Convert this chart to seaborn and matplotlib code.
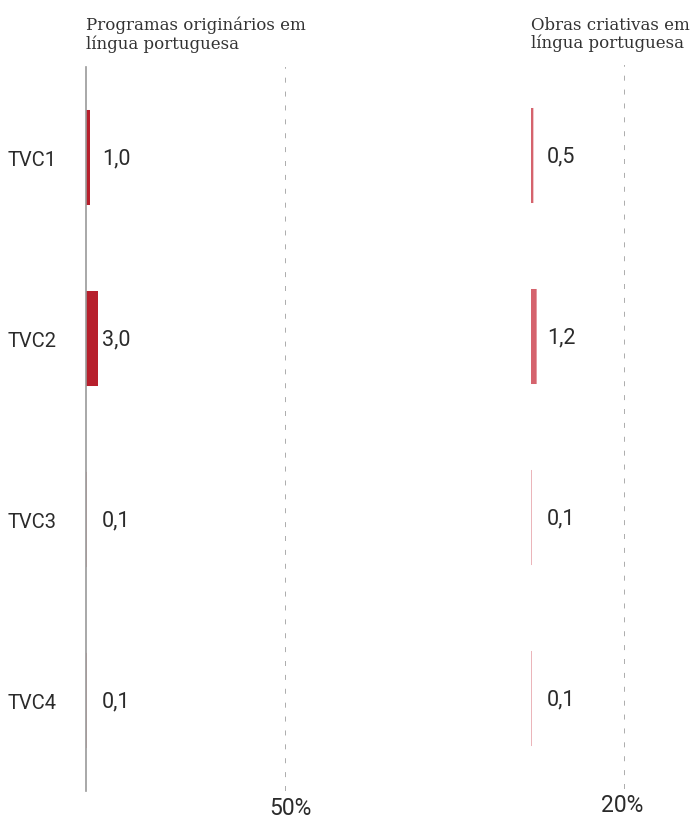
import matplotlib
matplotlib.use("Agg")
import matplotlib.pyplot as plt
from matplotlib.transforms import ScaledTranslation
import seaborn as sns
import pandas as pd

# Data
channels = ["TVC1", "TVC2", "TVC3", "TVC4"]
programas_pt = [1.0, 3.0, 0.1, 0.1]   # % programas originários em língua portuguesa
obras_pt = [0.5, 1.2, 0.1, 0.1]       # % obras criativas em língua portuguesa
panel_titles = ["Programas originários em\nlíngua portuguesa",
                "Obras criativas em\nlíngua portuguesa"]
ref_values = [50, 20]
ref_labels = ["50%", "20%"]


def fmt(v):
    return f"{v:.1f}".replace(".", ",")


sns.set_theme(style="white")
plt.rcParams["font.family"] = ["Roboto", "DejaVu Sans"]
plt.rcParams["lines.scale_dashes"] = False

W, H = 695, 820
fig = plt.figure(figsize=(W / 100, H / 100), dpi=100)


def px_axes(x0, x1, ytop, ybot):
    return fig.add_axes([x0 / W, 1 - ybot / H, (x1 - x0) / W, (ybot - ytop) / H])


ax_l = px_axes(86, 286, 68, 792)
ax_r = px_axes(531, 625, 66, 790)

df = pd.DataFrame({"canal": channels, "programas": programas_pt, "obras": obras_pt})

panels = [
    (ax_l, "programas", "#b71f2c", panel_titles[0], ref_values[0], ref_labels[0], 5, 4),
    (ax_r, "obras", "#d5636d", panel_titles[1], ref_values[1], ref_labels[1], 4, -3),
]

text_color = "#2b2b2b"

for ax, col, color, title, ref, ref_lab, pad_px, dx_px in panels:
    sns.barplot(data=df, x=col, y="canal", orient="h", color=color,
                saturation=1, width=0.525, linewidth=0, ax=ax)
    # keep hairline bars (0,1 %) visible instead of snapping them away
    for p in ax.patches:
        p.set_snap(False)
    ax.set_xlim(0, ref)
    ax.set_ylim(3.5, -0.5)
    ax.axvline(ref, color="#9e9e9e", lw=1.2, ls=(0, (3.6, 6.4)), zorder=0)
    ax.set_xticks([ref])
    ax.set_xticklabels([ref_lab], fontsize=16.5, color=text_color)
    ax.tick_params(axis="x", length=0, pad=pad_px * 0.72)
    for lab in ax.get_xticklabels():
        lab.set_transform(lab.get_transform() +
                          ScaledTranslation(dx_px / 100, 0, fig.dpi_scale_trans))
    ax.set_xlabel("")
    ax.set_ylabel("")
    for s in ax.spines.values():
        s.set_visible(False)
    for i, v in enumerate(df[col]):
        ax.annotate(fmt(v), xy=(0, i), xytext=(16, 0), textcoords="offset pixels",
                    va="center", ha="left", fontsize=15.5, color=text_color)
    pos = ax.get_position()
    fig.text(pos.x0, 1 - 17 / H, title, family=["DejaVu Serif"], fontsize=12,
             va="top", ha="left", linespacing=1.05, color="#333333")

# category labels and baseline on the left panel only
ax_l.spines["left"].set_visible(True)
ax_l.spines["left"].set_color("#999999")
ax_l.spines["left"].set_linewidth(1.2)
ax_l.tick_params(axis="y", length=0, pad=21, labelsize=14.5, labelcolor=text_color)
ax_r.set_yticks([])

fig.savefig("out.png", dpi=100)
